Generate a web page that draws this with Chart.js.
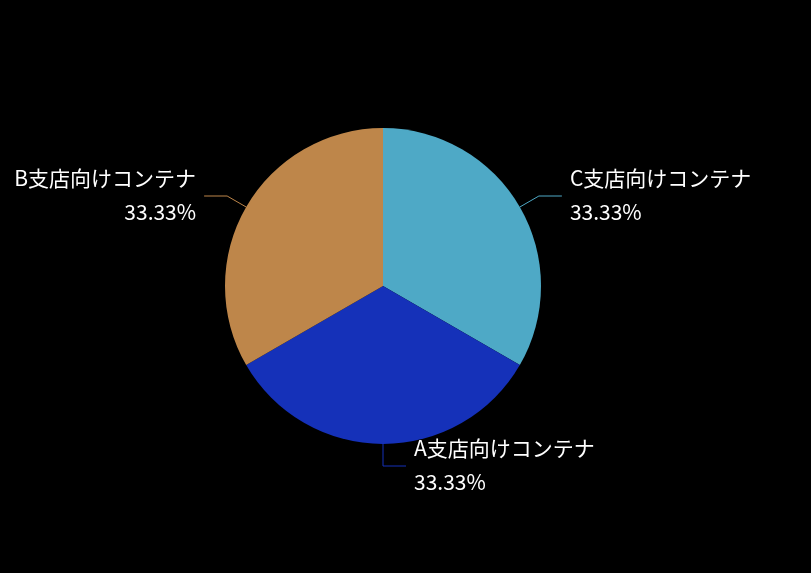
<!DOCTYPE html>
<html>
<head>
<meta charset="utf-8">
<script src="https://cdn.jsdelivr.net/npm/chart.js@4/dist/chart.umd.min.js"></script>
<style>
  html, body { margin: 0; padding: 0; background: #000; }
  canvas { display: block; }
</style>
</head>
<body>
<canvas id="pieChart" width="811" height="573"></canvas>
<script>
// slice order starts at the top and runs clockwise
const categories = ["C支店向けコンテナ", "A支店向けコンテナ", "B支店向けコンテナ"];
const values = [1, 1, 1];
const colors = ["#4EA9C6", "#1531B9", "#BE864A"];

const total = values.reduce((acc, v) => acc + v, 0);

// leader lines + two-line labels outside each slice
const outsideLabels = {
  id: "outsideLabels",
  afterDatasetsDraw(chart) {
    const ctx = chart.ctx;
    const meta = chart.getDatasetMeta(0);
    meta.data.forEach((arc, i) => {
      const p = arc.getProps(["x", "y", "startAngle", "endAngle", "outerRadius"], true);
      const mid = (p.startAngle + p.endAngle) / 2;
      const cos = Math.cos(mid), sin = Math.sin(mid);
      const x0 = p.x + cos * p.outerRadius;
      const y0 = p.y + sin * p.outerRadius;
      const x1 = p.x + cos * (p.outerRadius + 22);
      const y1 = p.y + sin * (p.outerRadius + 22);
      const dir = cos < -0.01 ? -1 : 1;
      const x2 = x1 + dir * 23;

      ctx.save();
      ctx.strokeStyle = colors[i];
      ctx.lineWidth = 1;
      ctx.beginPath();
      ctx.moveTo(x0, y0);
      ctx.lineTo(x1, y1);
      ctx.lineTo(x2, y1);
      ctx.stroke();

      ctx.fillStyle = "#ffffff";
      ctx.font = '21px "Noto Sans CJK JP", "Noto Sans", sans-serif';
      ctx.textBaseline = "middle";
      ctx.textAlign = dir < 0 ? "right" : "left";
      const tx = x2 + dir * 8;
      const pct = (values[i] / total * 100).toFixed(2) + "%";
      ctx.fillText(categories[i], tx, y1 - 18);
      ctx.fillText(pct, tx, y1 + 16);
      ctx.restore();
    });
  }
};

new Chart(document.getElementById("pieChart"), {
  type: "pie",
  data: {
    labels: categories,
    datasets: [{
      data: values,
      backgroundColor: colors,
      borderWidth: 0
    }]
  },
  options: {
    responsive: false,
    animation: false,
    layout: { padding: { left: 225, right: 270, top: 128, bottom: 129 } },
    plugins: {
      legend: { display: false },
      tooltip: { enabled: false }
    }
  },
  plugins: [outsideLabels]
});
</script>
</body>
</html>
